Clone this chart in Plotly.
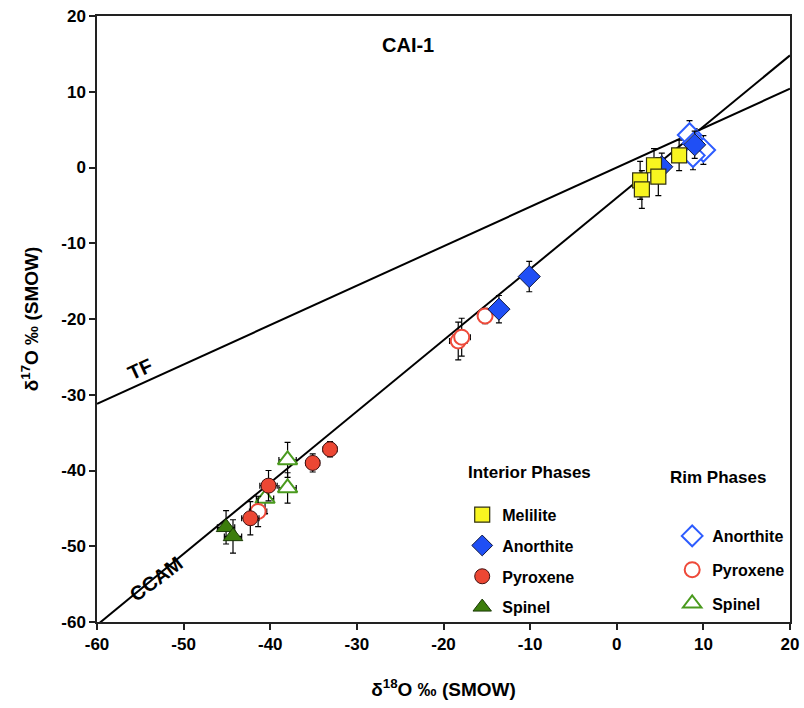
import plotly.graph_objects as go

# ---- data ----
mel_x = [2.7, 2.9, 4.3, 4.8, 7.2]
mel_y = [-1.7, -2.9, 0.3, -1.2, 1.6]
mel_ex = [0.8, 0.8, 0.8, 0.8, 0.8]
mel_ey = [2.5, 2.5, 2.2, 2.5, 2.0]

an_x = [5.2, 9.0, -10.1, -13.6]
an_y = [0.1, 3.0, -14.4, -18.7]
an_ex = [0.8, 0.8, 0.8, 0.8]
an_ey = [1.8, 1.8, 2.0, 1.8]

px_x = [-33.1, -35.1, -40.2, -42.3]
px_y = [-37.2, -39.0, -42.0, -46.3]
px_ex = [0.8, 0.8, 1.0, 1.0]
px_ey = [1.0, 1.2, 2.0, 2.2]

sp_x = [-45.1, -44.3]
sp_y = [-47.5, -48.7]
sp_ex = [1.0, 1.0]
sp_ey = [2.2, 2.2]

ran_x = [8.4, 9.0, 10.0, 8.8]
ran_y = [4.3, 3.2, 2.3, 1.6]
ran_ex = [0.9, 0.9, 0.9, 0.9]
ran_ey = [1.9, 1.9, 1.9, 1.9]

rpx_x = [-15.2, -18.3, -17.9, -41.4]
rpx_y = [-19.6, -22.9, -22.4, -45.4]
rpx_ex = [0.8, 1.0, 1.0, 1.0]
rpx_ey = [1.0, 2.5, 2.5, 2.0]

rsp_x = [-38.0, -38.0, -40.6]
rsp_y = [-38.6, -42.3, -43.7]
rsp_ex = [1.0, 1.0, 1.0]
rsp_ey = [2.3, 2.0, 2.0]

line_names = ["CCAM", "TF"]
line_slopes = [0.94, 0.52]
line_intercepts = [-4.0, 0.0]
x_range = [-60, 20]
y_range = [-60, 20]
tick_vals = [-60, -50, -40, -30, -20, -10, 0, 10, 20]
tick_text = ["<b>%d</b>" % v for v in tick_vals]

FONT = "Liberation Sans, Arial, sans-serif"

fig = go.Figure()

for name, m, b in zip(line_names, line_slopes, line_intercepts):
    xs = x_range
    ys = [m * v + b for v in xs]
    fig.add_trace(go.Scatter(x=xs, y=ys, mode="lines", line=dict(color="black", width=2),
                             showlegend=False, hoverinfo="skip"))

def add_series(x, y, ex, ey, name, symbol, fill, line_color, line_w, legend, size, rank):
    fig.add_trace(go.Scatter(
        x=x, y=y, mode="markers", name="<b>%s</b>" % name, legend=legend,
        legendgroup=legend + name, legendrank=rank,
        error_x=dict(type="data", array=ex, color="black", thickness=1.2, width=3),
        error_y=dict(type="data", array=ey, color="black", thickness=1.2, width=3),
        marker=dict(symbol=symbol, size=size, color=fill, line=dict(color=line_color, width=line_w)),
    ))

add_series(rsp_x, rsp_y, rsp_ex, rsp_ey, "Spinel", "triangle-up", "white", "#4a9a1e", 2, "legend2", 17, 3)
add_series(rpx_x, rpx_y, rpx_ex, rpx_ey, "Pyroxene", "circle", "white", "#ee4a3a", 2, "legend2", 15, 2)
add_series(ran_x, ran_y, ran_ex, ran_ey, "Anorthite", "diamond", "white", "#2d5cff", 2, "legend2", 18, 1)

add_series(sp_x, sp_y, sp_ex, sp_ey, "Spinel", "triangle-up", "#3c7d0c", "#1a3a05", 1, "legend", 17, 4)
add_series(px_x, px_y, px_ex, px_ey, "Pyroxene", "circle", "#ec4733", "#401010", 1, "legend", 15, 3)
add_series(an_x, an_y, an_ex, an_ey, "Anorthite", "diamond", "#1f4ff5", "#101840", 1, "legend", 17, 2)
add_series(mel_x, mel_y, mel_ex, mel_ey, "Melilite", "square", "#f8f520", "#303010", 1.2, "legend", 15, 1)

ann_font = dict(family=FONT, size=20, color="black")
fig.add_annotation(x=-24.1, y=16.2, text="<b>CAI-1</b>", showarrow=False, font=ann_font)
fig.add_annotation(x=-55.0, y=-26.6, text="<b>TF</b>", showarrow=False, font=ann_font, textangle=-25)
fig.add_annotation(x=-53.2, y=-54.3, text="<b>CCAM</b>", showarrow=False, font=ann_font, textangle=-37)
fig.add_annotation(x=-10.1, y=-40.2, text="<b>Interior Phases</b>", showarrow=False,
                   font=dict(family=FONT, size=17, color="black"))
fig.add_annotation(x=11.7, y=-40.9, text="<b>Rim Phases</b>", showarrow=False,
                   font=dict(family=FONT, size=17, color="black"))

axis_common = dict(
    showgrid=False, zeroline=False, showline=True, linecolor="#222", linewidth=1.5,
    mirror=True, ticks="outside", ticklen=6, tickcolor="#222", tickwidth=1.5,
    tickvals=tick_vals, ticktext=tick_text, automargin=False,
    tickfont=dict(family=FONT, size=17, color="black"),
)

fig.update_layout(
    width=804, height=708,
    margin=dict(l=97, r=14, t=16, b=86),
    plot_bgcolor="white", paper_bgcolor="white",
    xaxis=dict(range=x_range, title=dict(text="<b>δ<sup>18</sup>O ‰ (SMOW)</b>",
               font=dict(family=FONT, size=19, color="black"), standoff=30), **axis_common),
    yaxis=dict(range=y_range, title=dict(text="<b>δ<sup>17</sup>O ‰ (SMOW)</b>",
               font=dict(family=FONT, size=19, color="black"), standoff=18), **axis_common),
    legend=dict(x=0.527, y=0.205, xanchor="left", yanchor="top", bgcolor="rgba(0,0,0,0)",
                traceorder="grouped", font=dict(family=FONT, size=16, color="black"),
                tracegroupgap=7, itemwidth=30),
    legend2=dict(x=0.83, y=0.17, xanchor="left", yanchor="top", bgcolor="rgba(0,0,0,0)",
                 traceorder="grouped", font=dict(family=FONT, size=16, color="black"),
                 tracegroupgap=10, itemwidth=30),
    showlegend=True,
)

fig.write_html("out.html")
